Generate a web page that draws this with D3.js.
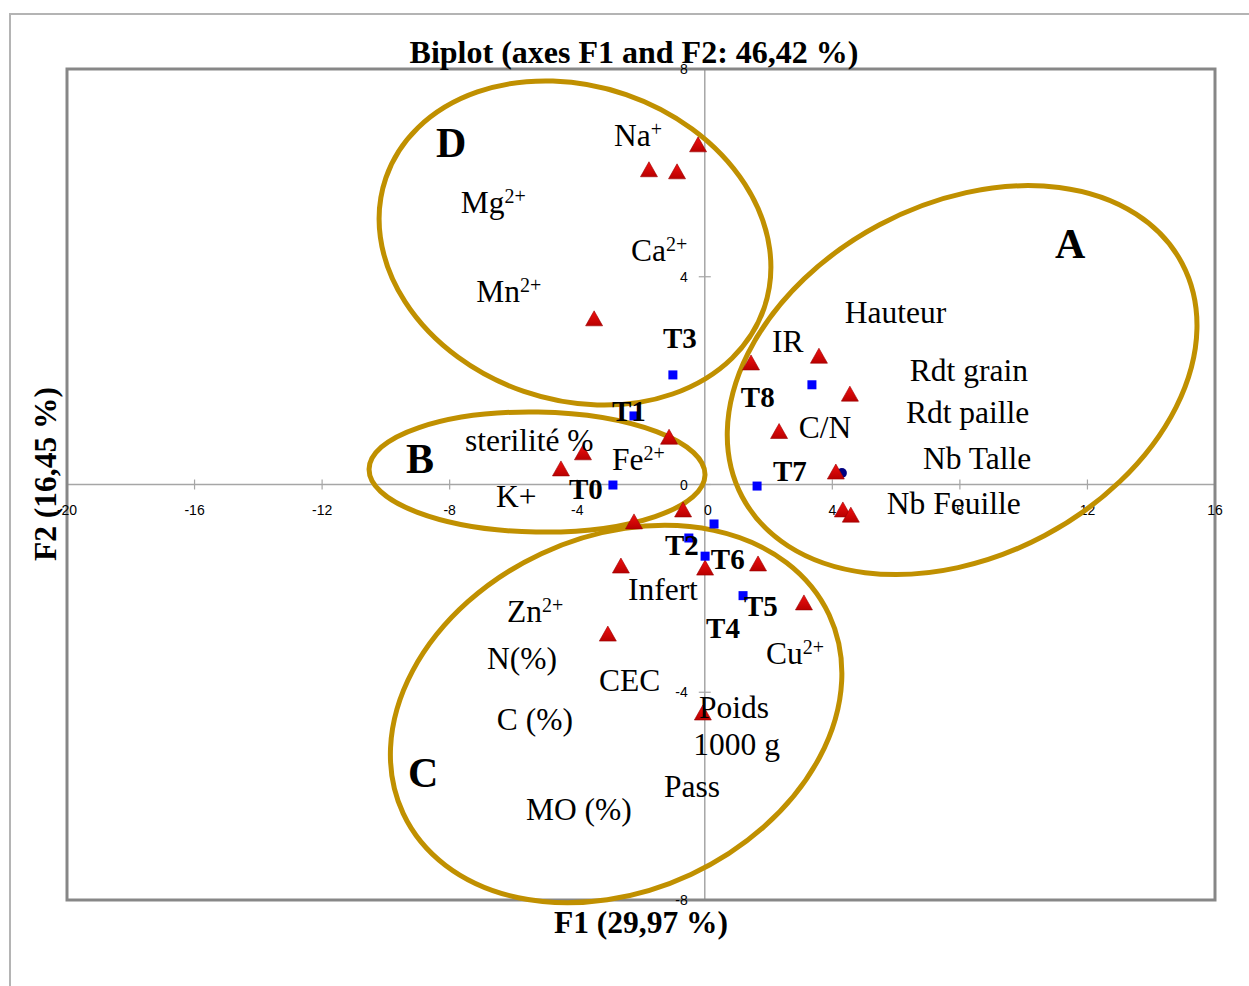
<!DOCTYPE html>
<html><head><meta charset="utf-8">
<script src="https://cdn.jsdelivr.net/npm/d3@7"></script>
<style>
html,body{margin:0;padding:0;background:#fff;}
svg{display:block;}
.serif{font-family:"Liberation Serif","Times New Roman",serif;}
.tick{font-family:"Liberation Sans",Arial,sans-serif;font-size:14px;fill:#000;}
</style></head>
<body>
<svg id="chart" width="1249" height="986"></svg>
<script>
// ---- Data ----
const xTicks = [-20,-16,-12,-8,-4,0,4,8,12,16];
const yTicks = [-8,-4,0,4,8];

// variables (red triangles), F1/F2 coordinates
const varX = [-0.21,-1.75,-0.87,-3.47,1.45,3.58,4.55,2.33,-1.12,-3.82,-4.51,4.11,-0.68,4.33,4.58,-2.22,-2.63,0.01,1.67,3.11,-3.04,-0.06];
const varY = [6.54,6.06,6.02,3.19,2.34,2.47,1.74,1.02,0.91,0.61,0.30,0.24,-0.49,-0.49,-0.59,-0.72,-1.57,-1.61,-1.53,-2.28,-2.88,-4.40];

// observations (blue squares)
const obsX = [-1.00,3.36,-2.22,-2.88,1.64,0.29,-0.50,0.01,1.20];
const obsY = [2.11,1.92,1.32,-0.01,-0.03,-0.76,-1.03,-1.38,-2.14];

// extra small point (dark blue circle)
const extraX = [4.30];
const extraY = [0.22];

// variable labels: [text, superscript, x, y]
const varLabels = [
  ["Na","+",-2.85,6.52],["Mg","2+",-7.65,5.23],["Ca","2+",-2.31,4.30],["Mn","2+",-7.17,3.51],
  ["Hauteur","",4.39,3.11],["IR","",2.11,2.55],["Rdt grain","",6.43,2.00],["Rdt paille","",6.31,1.19],
  ["C/N","",2.95,0.90],["Nb Talle","",6.84,0.30],["Nb Feuille","",5.71,-0.57],
  ["sterilité %","",-7.52,0.65],["Fe","2+",-2.91,0.28],["K+","",-6.55,-0.43],
  ["Infert","",-2.41,-2.22],["Zn","2+",-6.20,-2.65],["N(%)","",-6.83,-3.55],["CEC","",-3.32,-3.98],
  ["C (%)","",-6.52,-4.73],["MO (%)","",-5.61,-6.46],["Cu","2+",1.92,-3.46],
  ["Poids","",-0.18,-4.50],["1000 g","",-0.36,-5.20],["Pass","",-1.28,-6.02]
];
// observation labels
const obsLabels = [["T0",-4.26,-0.28],["T1",-2.91,1.22],["T2",-1.25,-1.36],["T3",-1.31,2.63],["T4",0.04,-2.96],
  ["T5",1.23,-2.53],["T6",0.19,-1.63],["T7",2.14,0.07],["T8",1.13,1.49]];
// group letters
const groupLabels = [["A",10.98,4.36],["B",-9.37,0.22],["C",-9.31,-5.82],["D",-8.43,6.31]];
// group ellipses: name, centre x, centre y
const groupNames = ["A","B","C","D"];
const groupCX = [8.07,-5.26,-2.78,-4.07];
const groupCY = [2.01,0.24,-4.42,4.65];

// ---- Layout ----
const svg = d3.select("#chart");
const L=67, R=1215, T=69, B=900;
const x = d3.scaleLinear().domain([-20,16]).range([L,R]);
const y = d3.scaleLinear().domain([-8,8]).range([B,T]);
const ellGeom = {A:[249,176,-28],B:[168,60,1],C:[235,177,-25],D:[200,157,19]};

// outer frame
svg.append("path").attr("d","M10,986 L10,14 L1249,14").attr("fill","none").attr("stroke","#b4b4b4").attr("stroke-width",2);

// zero axis lines
svg.append("line").attr("x1",L).attr("x2",R).attr("y1",y(0)).attr("y2",y(0)).attr("stroke","#a6a6a6").attr("stroke-width",1.5);
svg.append("line").attr("x1",x(0)).attr("x2",x(0)).attr("y1",T).attr("y2",B).attr("stroke","#a6a6a6").attr("stroke-width",1.5);

// ticks
svg.selectAll(".xt").data(xTicks).enter().append("line")
  .attr("x1",d=>x(d)).attr("x2",d=>x(d)).attr("y1",y(0)-5).attr("y2",y(0)+5).attr("stroke","#a6a6a6").attr("stroke-width",1.2);
svg.selectAll(".yt").data(yTicks).enter().append("line")
  .attr("x1",x(0)-6).attr("x2",x(0)+6).attr("y1",d=>y(d)).attr("y2",d=>y(d)).attr("stroke","#a6a6a6").attr("stroke-width",1.2);

// plot border
svg.append("rect").attr("x",L).attr("y",T).attr("width",R-L).attr("height",B-T)
  .attr("fill","none").attr("stroke","#878787").attr("stroke-width",3);

// tick labels
svg.selectAll(".xl").data(xTicks).enter().append("text").attr("class","tick")
  .attr("x",d=>x(d)+(d===0?3:0)).attr("y",y(0)+30).attr("text-anchor","middle").text(d=>d);
svg.selectAll(".yl").data(yTicks).enter().append("text").attr("class","tick")
  .attr("x",x(0)-17).attr("y",d=>y(d)+5).attr("text-anchor","end").text(d=>d);

// ellipses
svg.selectAll(".ell").data(groupNames).enter().append("ellipse")
  .attr("cx",0).attr("cy",0)
  .attr("rx",(d)=>ellGeom[d][0]).attr("ry",(d)=>ellGeom[d][1])
  .attr("transform",(d,i)=>`translate(${x(groupCX[i])},${y(groupCY[i])}) rotate(${ellGeom[d][2]})`)
  .attr("fill","none").attr("stroke","#c09000").attr("stroke-width",5);

// gradient for triangles
const defs = svg.append("defs");
const g = defs.append("linearGradient").attr("id","tri").attr("x1",0).attr("y1",0).attr("x2",0).attr("y2",1);
g.append("stop").attr("offset","0%").attr("stop-color","#f01010");
g.append("stop").attr("offset","100%").attr("stop-color","#b80000");

// extra point
svg.selectAll(".ex").data(extraX).enter().append("circle")
  .attr("cx",(d)=>x(d)).attr("cy",(d,i)=>y(extraY[i])).attr("r",5).attr("fill","#000080");

// triangles
svg.selectAll(".tri").data(varX).enter().append("path")
  .attr("d","M0,-8 L8.5,7 L-8.5,7 Z")
  .attr("transform",(d,i)=>`translate(${x(d)},${y(varY[i])})`)
  .attr("fill","url(#tri)").attr("stroke","#9a0000").attr("stroke-width",0.6);

// squares
svg.selectAll(".sq").data(obsX).enter().append("rect")
  .attr("x",d=>x(d)-4.5).attr("y",(d,i)=>y(obsY[i])-4.5).attr("width",9).attr("height",9).attr("fill","#0000ff");

// variable labels
const vl = svg.selectAll(".vl").data(varLabels).enter().append("text").attr("class","serif")
  .attr("x",d=>x(d[2])).attr("y",d=>y(d[3])).attr("font-size",31.5).attr("fill","#000");
vl.append("tspan").text(d=>d[0]);
vl.filter(d=>d[1]!=="").append("tspan").attr("dy",-10).attr("font-size",20).text(d=>d[1]);

// observation labels
svg.selectAll(".ol").data(obsLabels).enter().append("text").attr("class","serif")
  .attr("x",d=>x(d[1])).attr("y",d=>y(d[2])).attr("font-size",29).attr("font-weight","bold").text(d=>d[0]);

// group letters
svg.selectAll(".gl").data(groupLabels).enter().append("text").attr("class","serif")
  .attr("x",d=>x(d[1])).attr("y",d=>y(d[2])).attr("font-size",42).attr("font-weight","bold").text(d=>d[0]);

// titles
svg.append("text").attr("class","serif").attr("x",634).attr("y",63).attr("text-anchor","middle")
  .attr("font-size",32).attr("font-weight","bold").text("Biplot (axes F1 and F2: 46,42 %)");
svg.append("text").attr("class","serif").attr("x",641).attr("y",933).attr("text-anchor","middle")
  .attr("font-size",31.5).attr("font-weight","bold").text("F1 (29,97 %)");
svg.append("text").attr("class","serif").attr("transform","translate(56,474) rotate(-90)").attr("text-anchor","middle")
  .attr("font-size",31.5).attr("font-weight","bold").text("F2 (16,45 %)");
</script>
</body></html>
